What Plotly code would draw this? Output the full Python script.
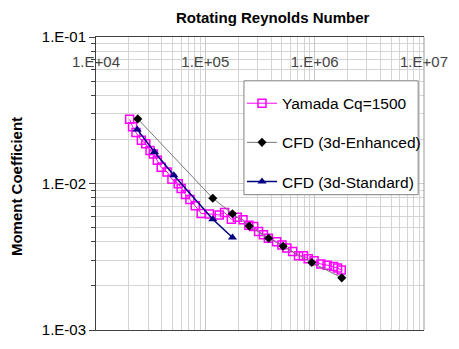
import plotly.graph_objects as go

# Yamada experimental data (Cq = 1500)
yamada_re = [2.03e4, 2.16e4, 2.32e4, 2.60e4, 2.85e4, 3.12e4, 3.35e4, 3.64e4, 3.95e4, 4.47e4,
             4.95e4, 5.65e4, 6.01e4, 6.59e4, 7.23e4, 8.09e4, 9.16e4, 1.09e5, 1.34e5, 1.50e5,
             1.73e5, 1.96e5, 2.21e5, 2.50e5, 2.77e5, 3.07e5, 3.40e5, 3.77e5, 4.49e5, 5.02e5,
             5.56e5, 6.29e5, 7.12e5, 7.89e5, 8.74e5, 9.88e5, 1.14e6, 1.30e6, 1.49e6, 1.62e6,
             1.75e6]
yamada_cm = [2.74e-2, 2.44e-2, 2.23e-2, 1.97e-2, 1.87e-2, 1.68e-2, 1.59e-2, 1.44e-2, 1.29e-2, 1.20e-2,
             1.07e-2, 9.98e-3, 9.24e-3, 8.41e-3, 7.79e-3, 7.06e-3, 6.25e-3, 6.20e-3, 6.10e-3, 6.34e-3,
             5.70e-3, 5.88e-3, 5.65e-3, 5.19e-3, 5.08e-3, 4.71e-3, 4.46e-3, 4.23e-3, 4.01e-3, 3.80e-3,
             3.63e-3, 3.44e-3, 3.21e-3, 3.21e-3, 3.06e-3, 2.97e-3, 2.82e-3, 2.77e-3, 2.71e-3, 2.65e-3,
             2.57e-3]

# CFD, 3d enhanced wall treatment
enh_re = [2.41e4, 1.17e5, 1.77e5, 2.52e5, 3.79e5, 5.15e5, 9.42e5, 1.77e6]
enh_cm = [2.76e-2, 7.93e-3, 6.22e-3, 5.12e-3, 4.23e-3, 3.73e-3, 2.89e-3, 2.27e-3]

# CFD, 3d standard wall functions
std_re = [2.38e4, 3.42e4, 5.15e4, 1.17e5, 1.77e5]
std_cm = [2.34e-2, 1.64e-2, 1.14e-2, 5.70e-3, 4.28e-3]

x_ticks = [1e4, 1e5, 1e6, 1e7]
x_labels = ["1.E+04", "1.E+05", "1.E+06", "1.E+07"]
y_ticks = [1e-3, 1e-2, 1e-1]
y_labels = ["1.E-03", "1.E-02", "1.E-01"]

FONT = "Liberation Sans, Arial, sans-serif"
GRID = "#d4d4d4"
AXIS = "#404040"

# plot-area geometry in pixels (figure is 459 x 349)
L, R, T, B = 96, 433, 37, 338
W, H = R - L, B - T


def px(x):
    return (x - L) / W


def py(y):
    return (B - y) / H


fig = go.Figure()
fig.add_trace(go.Scatter(
    x=yamada_re, y=yamada_cm, name="Yamada Cq=1500", mode="lines+markers",
    line=dict(color="#ff00ff", width=1),
    marker=dict(symbol="square-open", size=8, color="#ff00ff", line=dict(width=1.5, color="#ff00ff")),
    legendgroup="a",
))
fig.add_trace(go.Scatter(
    x=enh_re, y=enh_cm, name="CFD (3d-Enhanced)", mode="lines+markers",
    line=dict(color="#777777", width=1),
    marker=dict(symbol="diamond", size=7, color="black"),
    legendgroup="b",
))
fig.add_trace(go.Scatter(
    x=std_re, y=std_cm, name="CFD (3d-Standard)", mode="lines+markers",
    line=dict(color="#000080", width=1.5),
    marker=dict(symbol="triangle-up", size=8, color="#000080"),
    legendgroup="c",
))

fig.update_layout(
    width=459, height=349,
    margin=dict(l=L, r=459 - R, t=T, b=349 - B),
    paper_bgcolor="white", plot_bgcolor="white",
    font=dict(family=FONT, size=15, color="black"),
    showlegend=True,
    legend=dict(
        x=px(246), y=py(88), xanchor="left", yanchor="top",
        bgcolor="rgba(0,0,0,0)", borderwidth=0,
        font=dict(size=15.5), itemwidth=30, tracegroupgap=16,
    ),
    annotations=[
        dict(text="<b>Rotating Reynolds Number</b>", xref="paper", yref="paper",
             x=px(278), y=py(17), xanchor="center", yanchor="middle",
             showarrow=False, font=dict(size=15)),
        dict(text="<b>Moment Coefficient</b>", xref="paper", yref="paper",
             x=px(15), y=py(191), textangle=-90,
             xanchor="center", yanchor="middle", showarrow=False, font=dict(size=15)),
    ],
)

fig.update_xaxes(
    type="log", range=[4, 7], side="top",
    tickvals=x_ticks, ticktext=x_labels,
    ticklabelposition="inside", ticklabeloverflow="allow", ticklabelstandoff=19,
    ticks="", showline=True, linecolor=AXIS, linewidth=1, mirror=True,
    showgrid=True, gridcolor="#c8c8c8", gridwidth=1,
    minor=dict(dtick="D1", showgrid=True, gridcolor=GRID, gridwidth=1, ticks=""),
    zeroline=False,
)
fig.update_yaxes(
    type="log", range=[-3, -1],
    tickvals=y_ticks, ticktext=y_labels,
    ticks="outside", ticklen=6, tickcolor=AXIS,
    showline=True, linecolor=AXIS, linewidth=1,
    showgrid=True, gridcolor="#c8c8c8", gridwidth=1,
    minor=dict(dtick="D1", showgrid=True, gridcolor=GRID, gridwidth=1,
               ticks="outside", ticklen=4, tickcolor=AXIS),
    zeroline=False,
)

# light right border of the plot area
fig.add_shape(type="line", xref="paper", yref="paper", x0=1, x1=1, y0=0, y1=1,
              line=dict(color="#9a9a9a", width=1))
# legend frame
fig.add_shape(type="rect", xref="paper", yref="paper", layer="above",
              x0=px(248), x1=px(427), y0=py(199), y1=py(82),
              fillcolor="white", line=dict(color="#808080", width=1))

fig.write_html("out.html")
